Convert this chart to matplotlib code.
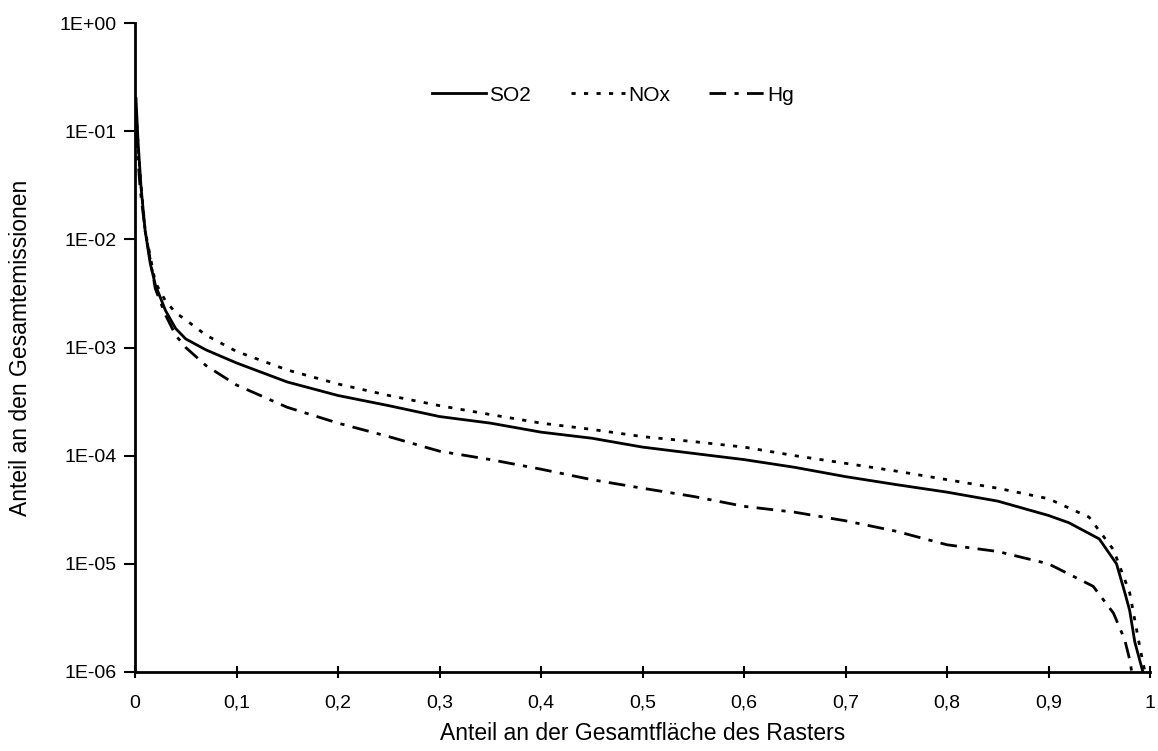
import math
import matplotlib
matplotlib.use("Agg")
import matplotlib.pyplot as plt
from matplotlib import ticker

plt.rcParams["font.family"] = ["Liberation Sans", "DejaVu Sans"]

# share of total raster area (x) and share of total emissions (y)
so2_x = [0.001, 0.003, 0.006, 0.01, 0.015, 0.02, 0.03, 0.04, 0.05, 0.07, 0.1,
         0.15, 0.2, 0.25, 0.3, 0.35, 0.4, 0.45, 0.5, 0.55, 0.6, 0.65, 0.7,
         0.75, 0.8, 0.85, 0.9, 0.92, 0.95, 0.967, 0.975, 0.98, 0.985, 0.993]
so2_y = [0.2, 0.08, 0.03, 0.012, 0.006, 0.0038, 0.0022, 0.0015, 0.0012,
         0.00095, 0.00072, 0.00048, 0.00036, 0.00029, 0.00023, 0.00020,
         0.000165, 0.000145, 0.000120, 0.000105, 0.000092, 0.000078,
         0.000064, 0.000054, 0.000046, 0.000038, 0.000028, 0.000024,
         0.000017, 0.000010, 0.0000055, 0.0000037, 0.0000019, 0.000001]

nox_x = [0.001, 0.005, 0.01, 0.02, 0.03, 0.04, 0.05, 0.07, 0.1, 0.15, 0.2,
         0.25, 0.3, 0.35, 0.4, 0.45, 0.5, 0.55, 0.6, 0.65, 0.7, 0.75, 0.8,
         0.85, 0.9, 0.94, 0.964, 0.98, 0.99, 0.995]
nox_y = [0.15, 0.04, 0.012, 0.004, 0.0027, 0.0021, 0.0018, 0.0013, 0.00092,
         0.00062, 0.00046, 0.00036, 0.00029, 0.00024, 0.00020, 0.000175,
         0.000150, 0.000135, 0.000120, 0.000100, 0.000085, 0.000072,
         0.000060, 0.000050, 0.000040, 0.000027, 0.0000135, 0.0000054,
         0.0000017, 0.000001]

hg_x = [0.001, 0.005, 0.01, 0.02, 0.03, 0.04, 0.05, 0.07, 0.1, 0.15, 0.2,
        0.25, 0.3, 0.35, 0.4, 0.45, 0.5, 0.55, 0.6, 0.65, 0.7, 0.75, 0.8,
        0.85, 0.9, 0.944, 0.964, 0.975, 0.98, 0.982]
hg_y = [0.1, 0.03, 0.012, 0.0035, 0.0020, 0.0013, 0.001, 0.00068, 0.00045,
        0.00028, 0.00020, 0.00015, 0.00011, 0.000092, 0.000075, 0.000060,
        0.000050, 0.000042, 0.000034, 0.000030, 0.000025, 0.000020,
        0.000015, 0.000013, 0.000010, 0.0000062, 0.0000035, 0.0000020,
        0.0000013, 0.000001]

x_ticks = [0, 0.1, 0.2, 0.3, 0.4, 0.5, 0.6, 0.7, 0.8, 0.9, 1]
y_ticks = [1e0, 1e-1, 1e-2, 1e-3, 1e-4, 1e-5, 1e-6]

fig = plt.figure(figsize=(11.58, 7.51), dpi=100)
ax = fig.add_axes([135 / 1158, 1 - 672 / 751, 1015 / 1158, 649 / 751])

ax.plot(so2_x, so2_y, color="black", lw=2.0, ls="-", label="SO2")
ax.plot(nox_x, nox_y, color="black", lw=2.0, ls=(0, (1.5, 3)), label="NOx")
ax.plot(hg_x, hg_y, color="black", lw=2.0, ls=(0, (6, 3, 1.5, 3)), label="Hg")

ax.set_yscale("log")
ax.set_xlim(0, 1)
ax.set_ylim(1e-6, 1e0)
ax.set_xticks(x_ticks)
ax.xaxis.set_major_formatter(
    ticker.FuncFormatter(lambda v, p: ("%g" % v).replace(".", ",")))
ax.set_yticks(y_ticks)
ax.yaxis.set_major_formatter(
    ticker.FuncFormatter(lambda v, p: "1E%+03d" % round(math.log10(v))))
ax.yaxis.set_minor_locator(ticker.NullLocator())

for side in ("top", "right"):
    ax.spines[side].set_visible(False)
for side in ("left", "bottom"):
    ax.spines[side].set_linewidth(2.0)
ax.tick_params(axis="x", direction="inout", length=9, width=1.5,
               labelsize=14, pad=12)
ax.tick_params(axis="y", direction="out", length=8, width=1.5,
               labelsize=14, pad=5)

ax.set_xlabel("Anteil an der Gesamtfläche des Rasters", fontsize=16.5,
              labelpad=7)
ax.set_ylabel("Anteil an den Gesamtemissionen", fontsize=16.5, labelpad=20)

ax.legend(loc="center left", bbox_to_anchor=(0.2926, 0.889), ncol=3,
          frameon=False, fontsize=15, handlelength=2.6, columnspacing=1.9,
          handletextpad=0.15, borderpad=0, borderaxespad=0)

fig.savefig("out.png", dpi=100, facecolor="white")
